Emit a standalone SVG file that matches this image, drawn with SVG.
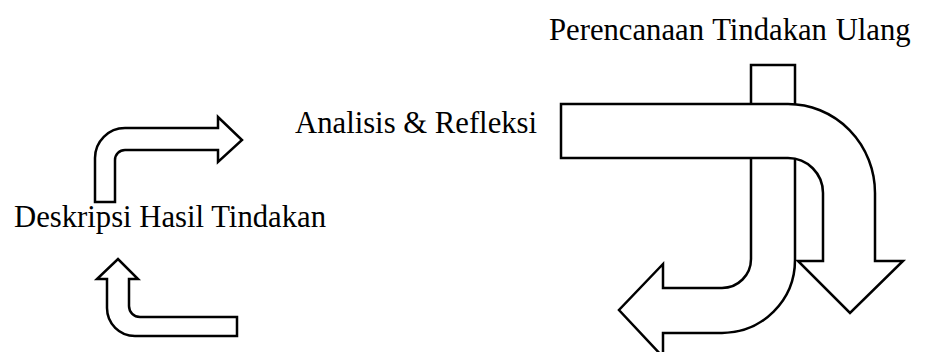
<svg xmlns="http://www.w3.org/2000/svg" width="932" height="352" viewBox="0 0 932 352">
<style>
text{font-family:'Liberation Serif','DejaVu Serif',serif;font-size:30.7px;fill:#000}
.blk{fill:#fff;stroke:#000;stroke-width:2.5;stroke-linejoin:miter}
</style>
<rect width="932" height="352" fill="#fff"/>
<g id="connectors">
  <path class="blk" d="M95,202 L95,158 A30,30 0 0 1 125,128 L218,128 L218,117 L242,140 L218,162 L218,150 L125,150 A10,10 0 0 0 115,160 L115,202 Z"/>
  <path class="blk" d="M237,317 L140,317 A11,11 0 0 1 129,306 L129,279 L138,279 L118,259 L97,279 L107,279 L107,308 A28,28 0 0 0 135,336 L237,336 Z"/>
  <path class="blk" d="M751,65 L795,65 L795,260 A73,73 0 0 1 722,333 L663,333 L663,357 L619,310 L663,264 L663,288 L722,288 A29,29 0 0 0 751,259 Z"/>
  <path class="blk" d="M561,104 L788,104 A87,89 0 0 1 875,193 L875,261 L903,261 L850,313 L798,261 L823,261 L823,193 A35,35 0 0 0 788,158 L561,158 Z"/>
</g>
<g id="node-perencanaan"><text x="549" y="40" font-size="33" word-spacing="1" font-family="Liberation Serif, serif">Perencanaan Tindakan Ulang</text></g>
<g id="node-analisis"><text x="295" y="133" font-family="Liberation Serif, serif">Analisis &amp; Refleksi</text></g>
<g id="node-deskripsi"><text x="14" y="227" font-family="Liberation Serif, serif">Deskripsi Hasil Tindakan</text></g>
</svg>
